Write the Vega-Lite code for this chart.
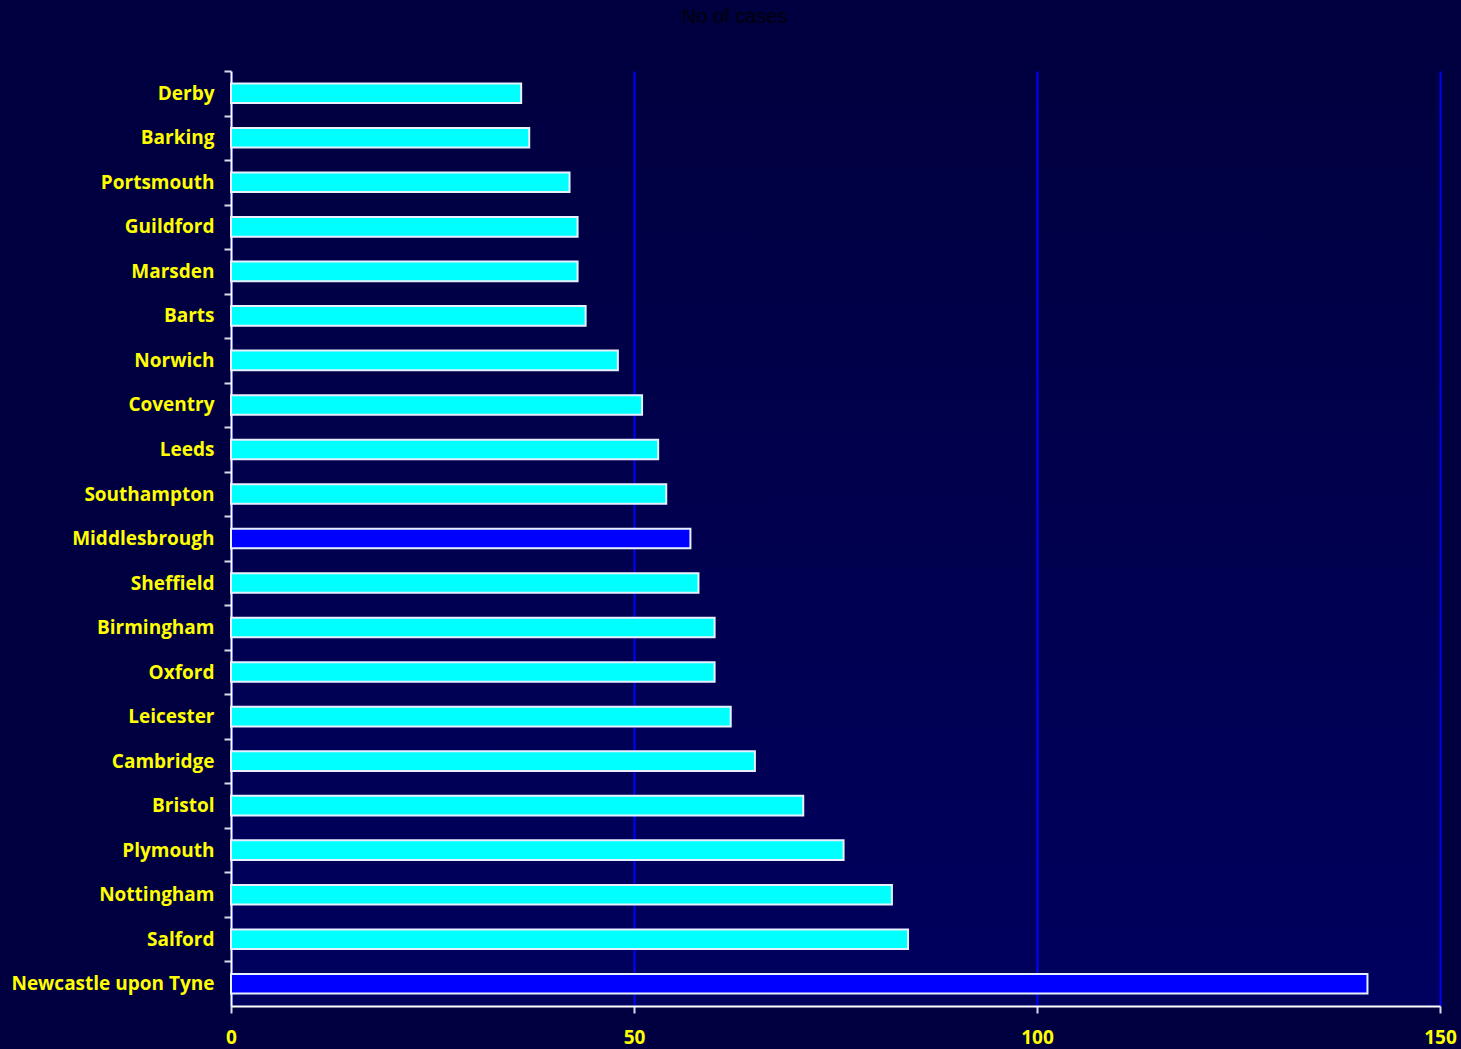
{
  "$schema": "https://vega.github.io/schema/vega-lite/v6.json",
  "autosize": {"type": "none"},
  "width": 1209,
  "height": 935,
  "padding": {"left": 231, "top": 71, "right": 21, "bottom": 43},
  "background": "#000040",
  "title": {
    "text": "No of cases",
    "font": "Liberation Sans",
    "fontSize": 20,
    "fontWeight": "normal",
    "color": "#00000a",
    "anchor": "middle",
    "dx": -101,
    "offset": 43
  },
  "config": {
    "view": {"stroke": null, "fill": {"gradient": "linear", "x1": 0, "y1": 0, "x2": 0, "y2": 1, "stops": [{"offset": 0, "color": "#000040"}, {"offset": 1, "color": "#00005e"}]}}
  },
  "data": {
    "values": [
      {"unit": "Derby", "cases": 36, "group": "other"},
      {"unit": "Barking", "cases": 37, "group": "other"},
      {"unit": "Portsmouth", "cases": 42, "group": "other"},
      {"unit": "Guildford", "cases": 43, "group": "other"},
      {"unit": "Marsden", "cases": 43, "group": "other"},
      {"unit": "Barts", "cases": 44, "group": "other"},
      {"unit": "Norwich", "cases": 48, "group": "other"},
      {"unit": "Coventry", "cases": 51, "group": "other"},
      {"unit": "Leeds", "cases": 53, "group": "other"},
      {"unit": "Southampton", "cases": 54, "group": "other"},
      {"unit": "Middlesbrough", "cases": 57, "group": "highlight"},
      {"unit": "Sheffield", "cases": 58, "group": "other"},
      {"unit": "Birmingham", "cases": 60, "group": "other"},
      {"unit": "Oxford", "cases": 60, "group": "other"},
      {"unit": "Leicester", "cases": 62, "group": "other"},
      {"unit": "Cambridge", "cases": 65, "group": "other"},
      {"unit": "Bristol", "cases": 71, "group": "other"},
      {"unit": "Plymouth", "cases": 76, "group": "other"},
      {"unit": "Nottingham", "cases": 82, "group": "other"},
      {"unit": "Salford", "cases": 84, "group": "other"},
      {"unit": "Newcastle upon Tyne", "cases": 141, "group": "highlight"}
    ]
  },
  "mark": {"type": "bar", "stroke": "#e8f0ff", "strokeWidth": 2},
  "encoding": {
    "y": {
      "field": "unit",
      "type": "nominal",
      "sort": null,
      "scale": {"paddingInner": 0.56, "paddingOuter": 0.28},
      "axis": {
        "title": null,
        "labelFont": "Open Sans",
        "labelFontWeight": "bold",
        "labelFontSize": 19,
        "labelColor": "#ffff00",
        "labelPadding": 10,
        "labelLimit": 400,
        "bandPosition": 0,
        "tickOffset": -12.47,
        "labelOffset": 12.5,
        "tickColor": "#d8d8e8",
        "tickSize": 7,
        "tickWidth": 2,
        "domainColor": "#ffffff",
        "domainWidth": 2,
        "grid": false
      }
    },
    "x": {
      "field": "cases",
      "type": "quantitative",
      "scale": {"domain": [0, 150], "nice": false},
      "axis": {
        "title": null,
        "values": [0, 50, 100, 150],
        "labelFont": "Open Sans",
        "labelFontWeight": "bold",
        "labelFontSize": 19,
        "labelColor": "#ffff00",
        "labelPadding": 15,
        "labelFlush": false,
        "tickColor": "#d8d8e8",
        "tickSize": 7,
        "tickWidth": 2,
        "domainColor": "#ffffff",
        "domainWidth": 2,
        "grid": true,
        "gridColor": "#0000ff",
        "gridWidth": 2
      }
    },
    "color": {
      "field": "group",
      "type": "nominal",
      "scale": {"domain": ["other", "highlight"], "range": ["#00ffff", "#0000ff"]},
      "legend": null
    }
  }
}
